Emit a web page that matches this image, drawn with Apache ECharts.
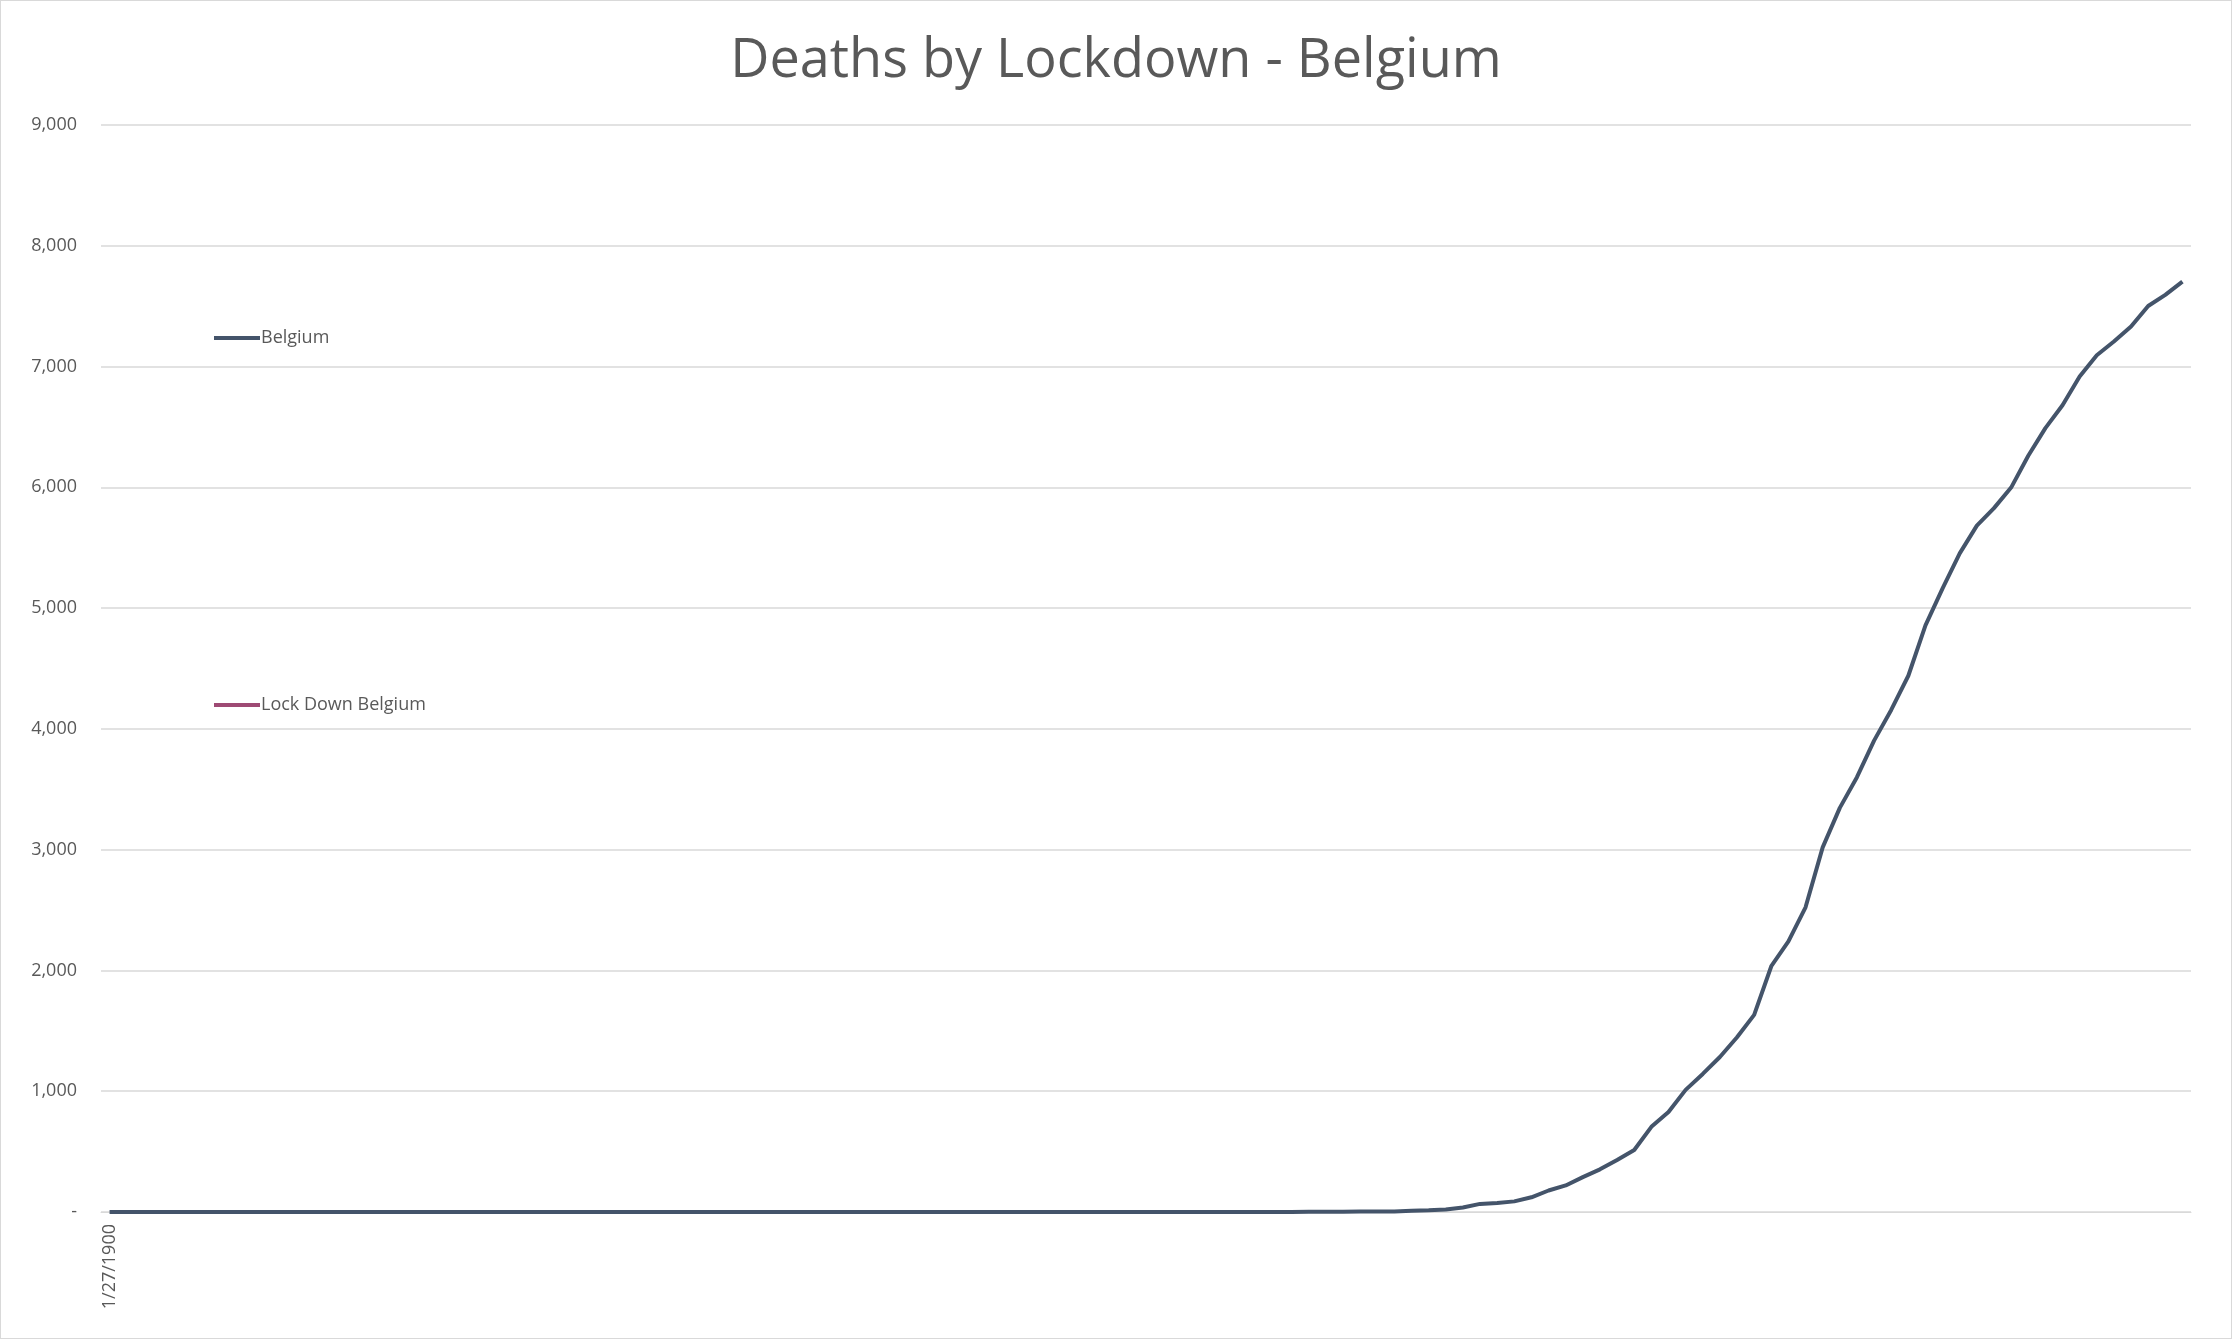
<!DOCTYPE html>
<html><head><meta charset="utf-8">
<script src="https://cdn.jsdelivr.net/npm/echarts@6/dist/echarts.min.js"></script>
<style>html,body{margin:0;padding:0;background:#fff}#c{width:2230px;height:1337px;border:1px solid #d9d9d9}</style>
</head><body><div id="c"></div>
<script>
const tickLabels = ['1/27/1900'];
const zerosBefore = 70;
const belgiumTail = [3,3,3,4,4,5,10,14,21,37,67,75,88,122,178,220,289,353,431,513,705,828,1011,1143,1283,1447,1632,2035,2240,2523,3019,3346,3600,3903,4157,4440,4857,5163,5453,5683,5828,5998,6262,6490,6679,6917,7094,7207,7331,7501,7594,7703];
const belgium = new Array(zerosBefore).fill(0).concat(belgiumTail);
const categories = belgium.map((v,i)=> i===0 ? tickLabels[0] : String(i));
const lockDown = [];
const chart = echarts.init(document.getElementById('c'));
chart.setOption({
  animation:false,
  title:{text:'Deaths by Lockdown - Belgium',left:'center',top:29,textStyle:{fontFamily:'Open Sans',fontSize:54,fontWeight:'normal',color:'#595959'}},
  legend:{orient:'vertical',left:208,top:323,itemGap:349,itemWidth:46,itemHeight:4,icon:'rect',
    textStyle:{fontFamily:'Open Sans',fontSize:18,color:'#595959',padding:[0,0,0,-4]},
    data:['Belgium','Lock Down Belgium']},
  grid:{left:100,right:40,top:124,bottom:126,containLabel:false},
  xAxis:{type:'category',boundaryGap:true,data:categories,
    axisLine:{lineStyle:{color:'#d9d9d9'}},axisTick:{show:false},
    axisLabel:{rotate:90,interval:(i)=>i===0,formatter:(v,i)=>i===0?v:'',color:'#595959',fontSize:18,fontFamily:'Open Sans',margin:12}},
  yAxis:{type:'value',min:0,max:9000,interval:1000,axisLine:{show:false},axisTick:{show:false},
    splitLine:{lineStyle:{color:'#d9d9d9',width:1.5}},
    axisLabel:{color:'#595959',fontSize:18,fontFamily:'Open Sans',margin:24,formatter:v=>v===0?'-':v.toLocaleString('en-US')}},
  series:[
    {name:'Belgium',type:'line',data:belgium,symbol:'none',lineStyle:{color:'#44546a',width:4},itemStyle:{color:'#44546a'}},
    {name:'Lock Down Belgium',type:'line',data:lockDown,symbol:'none',lineStyle:{color:'#9e4a74',width:4},itemStyle:{color:'#9e4a74'}}
  ]
});
</script></body></html>
